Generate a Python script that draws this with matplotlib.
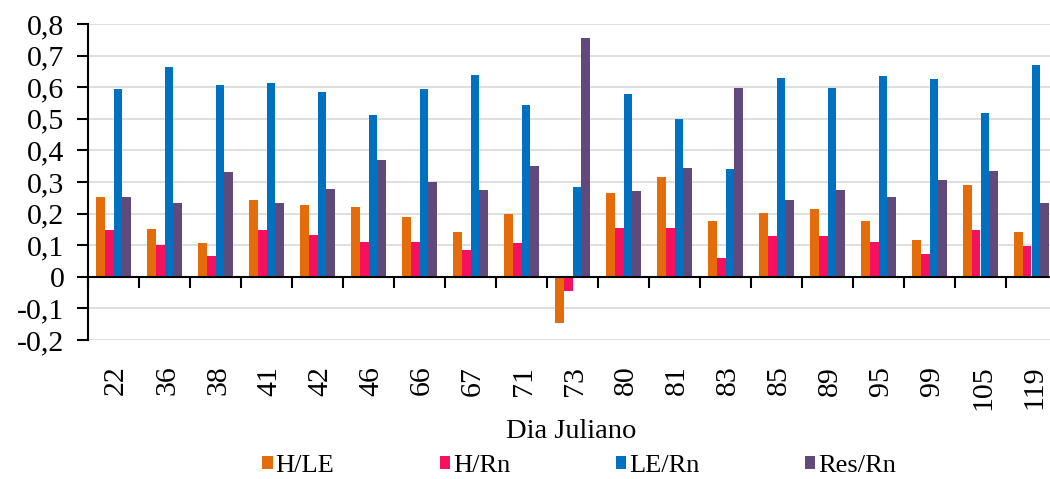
import matplotlib
matplotlib.use("Agg")
import matplotlib.pyplot as plt
import numpy as np

days = ["22", "36", "38", "41", "42", "46", "66", "67", "71", "73",
        "80", "81", "83", "85", "89", "95", "99", "105", "119"]
h_le = [0.253, 0.152, 0.107, 0.244, 0.228, 0.222, 0.190, 0.142, 0.199, -0.146,
        0.265, 0.316, 0.178, 0.203, 0.214, 0.178, 0.117, 0.290, 0.142]
h_rn = [0.149, 0.101, 0.066, 0.149, 0.133, 0.111, 0.111, 0.085, 0.108, -0.044,
        0.153, 0.153, 0.061, 0.128, 0.128, 0.111, 0.071, 0.147, 0.096]
le_rn = [0.595, 0.665, 0.608, 0.614, 0.585, 0.513, 0.595, 0.639, 0.544, 0.284,
         0.579, 0.499, 0.341, 0.630, 0.599, 0.634, 0.625, 0.518, 0.669]
res_rn = [0.253, 0.234, 0.332, 0.234, 0.279, 0.370, 0.301, 0.275, 0.351, 0.756,
          0.270, 0.345, 0.599, 0.244, 0.275, 0.254, 0.305, 0.335, 0.234]
series_names = ["H/LE", "H/Rn", "LE/Rn", "Res/Rn"]
colors = ["#E46C0A", "#F7105E", "#0070C0", "#604A7B"]
ytick_vals = [-0.2, -0.1, 0, 0.1, 0.2, 0.3, 0.4, 0.5, 0.6, 0.7, 0.8]
ytick_labels = ["-0,2", "-0,1", "0", "0,1", "0,2", "0,3", "0,4", "0,5", "0,6", "0,7", "0,8"]

plt.rcParams['font.family'] = ['Liberation Serif', 'DejaVu Serif']

fig = plt.figure(figsize=(10.5, 4.79), dpi=100)
ax = fig.add_axes([88/1050, 1-340/479, 969/1050, (340-24)/479])

x = np.arange(len(days))
w = 0.176
data = [h_le, h_rn, le_rn, res_rn]
for i, (vals, name, c) in enumerate(zip(data, series_names, colors)):
    ax.bar(x + (i - 1.5) * w, vals, width=w, color=c, label=name, zorder=3)

ax.set_xlim(-0.5, len(days) - 0.5)
ax.set_ylim(-0.2, 0.8)
ax.set_yticks(ytick_vals)
ax.set_yticklabels(ytick_labels, fontsize=21.5)
for v in ytick_vals:
    if v != 0:
        ax.axhline(v, color="#D9D9D9", lw=1.2, zorder=1)

ax.spines['top'].set_visible(False)
ax.spines['right'].set_visible(False)
ax.spines['left'].set_linewidth(1.5)
ax.spines['bottom'].set_position(('data', 0))
ax.spines['bottom'].set_linewidth(1.5)
ax.spines['bottom'].set_zorder(4)

ax.set_xticks(x + 0.05)
ax.set_xticklabels(days, rotation=90, fontsize=21.5)
ax.tick_params(axis='x', which='major', length=0, pad=64)
ax.set_xticks(np.arange(len(days) + 1) - 0.5, minor=True)
ax.tick_params(axis='x', which='minor', length=8, width=1.5, direction='out')
ax.tick_params(axis='y', length=8, width=1.5, direction='out', pad=9)

fig.text(571/1050, 1-432/479, "Dia Juliano", ha='center', va='center', fontsize=20.5)

leg = fig.legend(loc='center', bbox_to_anchor=(579/1050, 1-466/479), ncol=4,
                 frameon=False, fontsize=19, handlelength=0.4, handleheight=0.4,
                 handletextpad=0.1, columnspacing=4.0, borderaxespad=0)

fig.savefig("out.png", dpi=100)
